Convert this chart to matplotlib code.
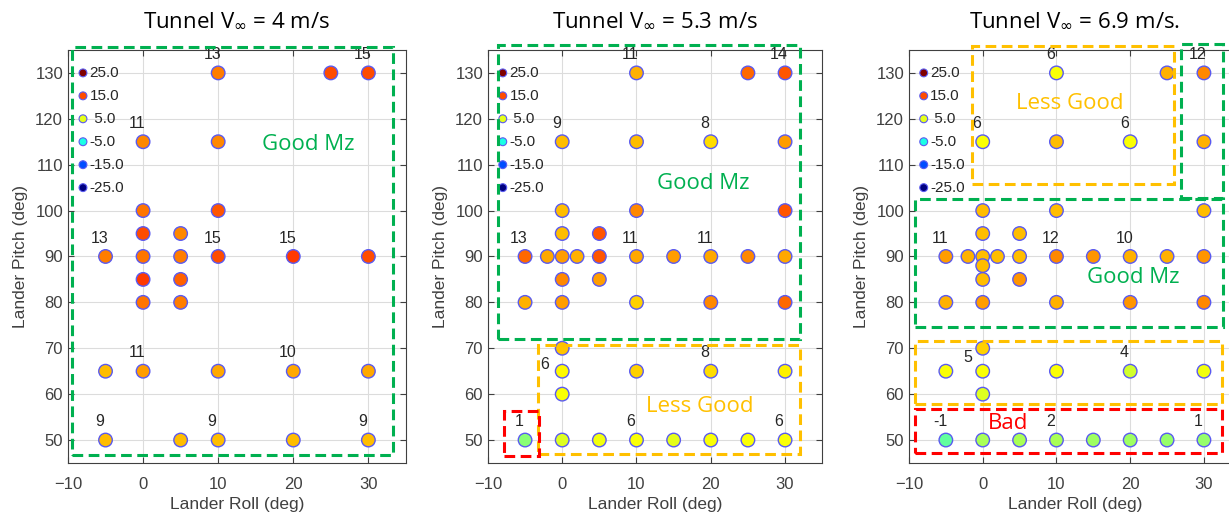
import matplotlib.pyplot as plt
from matplotlib.patches import Rectangle
from matplotlib.colors import ListedColormap
import numpy as np

# Panel titles (tunnel speed)
titles = [r"Tunnel V$_{\infty}$ = 4 m/s", r"Tunnel V$_{\infty}$ = 5.3 m/s", r"Tunnel V$_{\infty}$ = 6.9 m/s."]

# 4 m/s: roll, pitch, value (colour)
roll_1 = [10, 25, 30, 0, 10, 0, 10, 0, 5, -5, 0, 5, 10, 20, 30, 0, 5, 0, 5,
          -5, 0, 10, 20, 30, -5, 5, 10, 20, 30]
pitch_1 = [130, 130, 130, 115, 115, 100, 100, 95, 95, 90, 90, 90, 90, 90, 90, 85, 85, 80, 80,
           65, 65, 65, 65, 65, 50, 50, 50, 50, 50]
val_1 = [12.5, 15, 15, 12, 12, 13, 14.5, 15, 12, 12.5, 13, 12.5, 15, 16, 15, 16, 14, 13, 12.5,
         9.5, 11, 10.5, 10.5, 10.5, 9.5, 9.5, 9.5, 9.5, 9.5]

# 5.3 m/s
roll_2 = [10, 25, 30, 0, 10, 20, 30, 0, 10, 30, 0, 5, -5, -2, 0, 2, 5, 10, 15, 20, 25, 30,
          0, 5, -5, 0, 10, 20, 30, 0, 0, 0, 10, 20, 30, -5, 0, 5, 10, 15, 20, 25, 30]
pitch_2 = [130, 130, 130, 115, 115, 115, 115, 100, 100, 100, 95, 95, 90, 90, 90, 90, 90, 90, 90, 90, 90, 90,
           85, 85, 80, 80, 80, 80, 80, 70, 65, 60, 65, 65, 65, 50, 50, 50, 50, 50, 50, 50, 50]
val_2 = [10, 13.5, 14.5, 9.5, 9.5, 8, 11, 9.5, 12, 14.5, 9.5, 14.5, 13.5, 10.5, 11, 10, 14.5, 10.5, 11, 10.5, 12, 10.5,
         12, 11, 10, 11, 8.5, 12, 13.5, 9, 6.5, 6, 8.5, 8, 7, 0.5, 4.5, 5.5, 6, 5, 6, 6, 6]

# 6.9 m/s
roll_3 = [10, 25, 30, 0, 10, 20, 30, 0, 10, 30, 0, 5, -5, -2, 0, 2, 5, 10, 15, 20, 25, 30,
          0, 0, 5, -5, 0, 10, 20, 30, 0, -5, 0, 10, 20, 30, 0, -5, 0, 5, 10, 15, 20, 25, 30]
pitch_3 = [130, 130, 130, 115, 115, 115, 115, 100, 100, 100, 95, 95, 90, 90, 90, 90, 90, 90, 90, 90, 90, 90,
           88, 85, 85, 80, 80, 80, 80, 80, 70, 65, 65, 65, 65, 65, 60, 50, 50, 50, 50, 50, 50, 50, 50]
val_3 = [6, 10, 12, 6, 9.5, 6, 10, 9.5, 9.5, 9.5, 9.5, 9.5, 11, 10, 9.5, 9.5, 9.5, 12, 11.5, 10, 10, 11.5,
         9.5, 9.5, 11.5, 10, 11, 10, 11.5, 12, 8.5, 6, 6, 6, 4, 5.5, 4.5, -1.5, 2, 2, 2, 1.5, 1.5, 1, 1]

# number labels: roll, pitch, text
lab_1 = [(10, 130, "13"), (30, 130, "15"), (0, 115, "11"), (-5, 90, "13"), (10, 90, "15"),
         (20, 90, "15"), (0, 65, "11"), (20, 65, "10"), (-5, 50, "9"), (10, 50, "9"), (30, 50, "9")]
lab_2 = [(10, 130, "11"), (30, 130, "14"), (0, 115, "9"), (20, 115, "8"), (-5, 90, "13"),
         (10, 90, "11"), (20, 90, "11"), (-1.5, 62.5, "6"), (20, 65, "8"), (-5, 50, "1"),
         (10, 50, "6"), (30, 50, "6")]
lab_3 = [(10, 130, "6"), (30, 130, "12"), (0, 115, "6"), (20, 115, "6"), (-5, 90, "11"),
         (10, 90, "12"), (20, 90, "10"), (-1.2, 64, "5"), (20, 65, "4"), (-5, 50, "-1"),
         (10, 50, "2"), (30, 50, "1")]

# colour key drawn inside each panel
key_vals = [25, 15, 5, -5, -15, -25]
key_text = ["25.0", "15.0", " 5.0", "-5.0", "-15.0", "-25.0"]
key_pitch = [130, 125, 120, 115, 110, 105]

# dashed region boxes: x0, y0, x1, y1, colour, text, text x, text y
GREEN, ORANGE, RED = "#00B050", "#FFC000", "#FF0000"
boxes_1 = [(-9.5, 46.7, 33.3, 135.6, GREEN, "Good Mz", 22, 114.5)]
boxes_2 = [(-8.7, 72.1, 32.0, 136.0, GREEN, "Good Mz", 19, 106),
           (-3.2, 47.0, 32.0, 70.8, ORANGE, "Less Good", 18.5, 57.4),
           (-7.9, 46.5, -3.1, 56.3, RED, "", 0, 0)]
boxes_3 = [(-1.5, 105.7, 25.9, 135.9, ORANGE, "Less Good", 11.8, 123.4),
           (26.9, 102.8, 32.6, 136.4, GREEN, "", 0, 0),
           (-9.2, 74.6, 32.6, 102.6, GREEN, "Good Mz", 20.4, 85.5),
           (-9.2, 57.9, 32.4, 71.5, ORANGE, "", 0, 0),
           (-9.2, 47.1, 32.4, 56.8, RED, "Bad", 3.4, 53.7)]

# MATLAB-style jet
t = np.linspace(0, 1, 256)
mjet = ListedColormap(np.clip(np.stack([1.5 - np.abs(4 * t - 3),
                                        1.5 - np.abs(4 * t - 2),
                                        1.5 - np.abs(4 * t - 1)], axis=1), 0, 1))

plt.rcParams['font.family'] = ['Liberation Sans', 'DejaVu Sans']
plt.rcParams['mathtext.fontset'] = 'dejavusans'

fig = plt.figure(figsize=(12.29, 5.15), dpi=100)
positions = [[0.0553, 0.101, 0.275, 0.802],
             [0.397, 0.101, 0.272, 0.802],
             [0.7396, 0.101, 0.270, 0.802]]

data = [(roll_1, pitch_1, val_1, lab_1, boxes_1),
        (roll_2, pitch_2, val_2, lab_2, boxes_2),
        (roll_3, pitch_3, val_3, lab_3, boxes_3)]

edge = '#5A5AF0'
gray = '#404040'
for k, (rr, pp, vv, labs, boxes) in enumerate(data):
    ax = fig.add_axes(positions[k])
    ax.set_xlim(-10, 35)
    ax.set_ylim(45, 135)
    ax.set_xticks([-10, 0, 10, 20, 30])
    ax.set_yticks(np.arange(50, 131, 10))
    ax.grid(True, color='#dcdcdc', linewidth=0.8)
    ax.set_axisbelow(True)
    ax.tick_params(direction='in', top=True, right=True, labelsize=12,
                   colors=gray, length=4)
    ax.tick_params(axis='x', pad=10)
    for s in ax.spines.values():
        s.set_color('#404040')
        s.set_linewidth(0.8)

    ax.scatter(rr, pp, c=vv, cmap=mjet, vmin=-25, vmax=25, s=95,
               edgecolors=edge, linewidths=1.0, zorder=3)
    for x, y, txt in labs:
        ax.text(x - 0.8, y + 4, txt, ha='center', va='center', fontsize=11.5,
                color='#262626', zorder=4)

    ax.scatter([-8.0] * len(key_vals), key_pitch, c=key_vals, cmap=mjet, vmin=-25, vmax=25,
               s=32, edgecolors=edge, linewidths=0.8, zorder=3)
    for y, txt in zip(key_pitch, key_text):
        ax.text(-7.1, y, txt, ha='left', va='center', fontsize=11, color='#262626', zorder=4)

    for x0, y0, x1, y1, col, txt, tx, ty in boxes:
        ax.add_patch(Rectangle((x0, y0), x1 - x0, y1 - y0, fill=False, edgecolor=col,
                               linewidth=2.2, linestyle=(0, (3.5, 1.8)), clip_on=False, zorder=5))
        if txt:
            ax.text(tx, ty, txt, ha='center', va='center', fontsize=16, color=col,
                    family=['Open Sans', 'DejaVu Sans'], zorder=5)

    ax.set_title(titles[k], fontsize=16, pad=17, color='black',
                 family=['Open Sans', 'DejaVu Sans'])
    ax.set_xlabel('Lander Roll (deg)', fontsize=12.5, color=gray, labelpad=4)
    ax.set_ylabel('Lander Pitch (deg)', fontsize=12.5, color=gray, labelpad=5)

fig.savefig('out.png', dpi=100)
